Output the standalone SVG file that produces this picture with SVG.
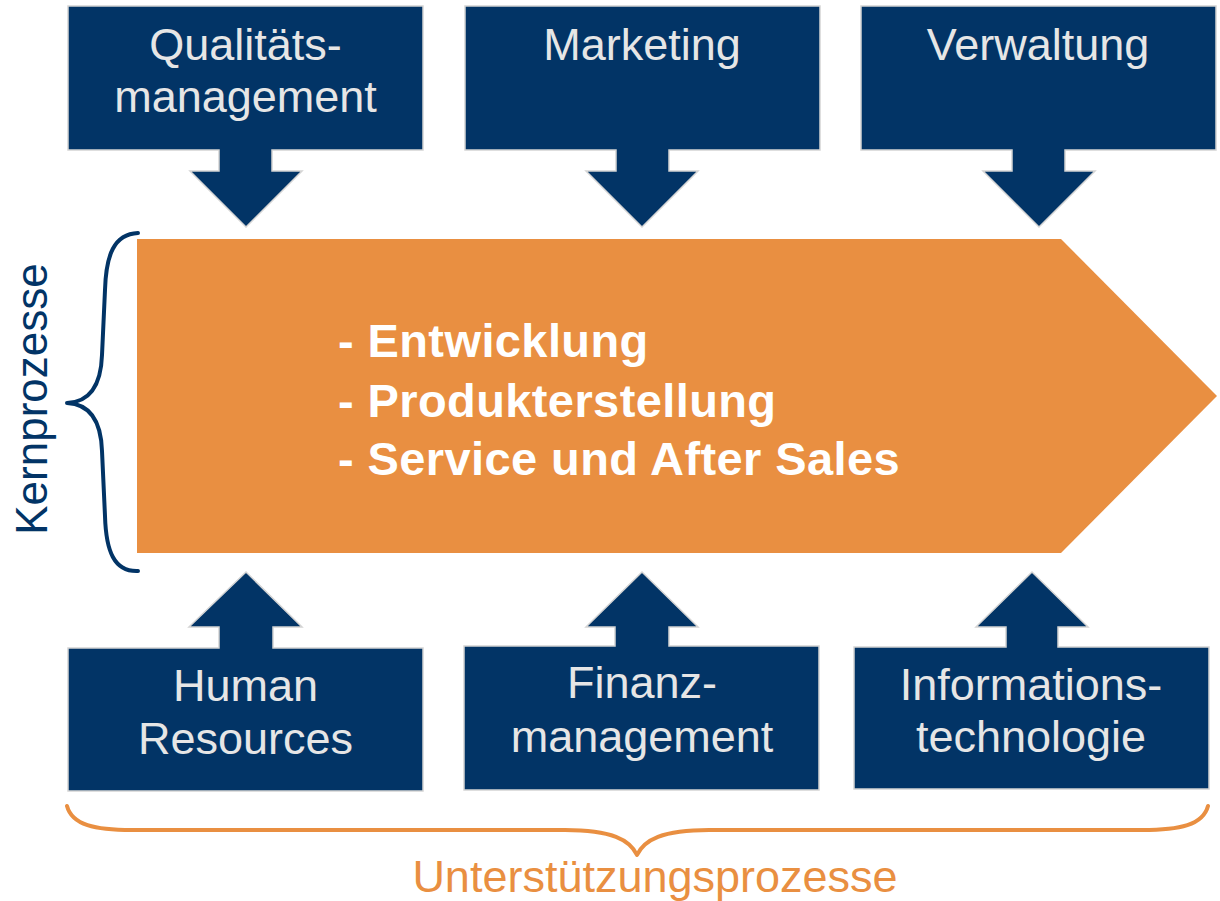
<svg xmlns="http://www.w3.org/2000/svg" width="1220" height="901" viewBox="0 0 1220 901">
<style>
.box{fill:#023466;stroke:#d4d4d4;stroke-width:1.5;stroke-linejoin:miter}
.lbl{font-family:"Liberation Sans",Arial,sans-serif;font-size:45px;fill:#e6e6e6;text-anchor:middle}
.core{font-family:"Liberation Sans",Arial,sans-serif;font-size:47px;font-weight:bold;fill:#ffffff;letter-spacing:0.4px}
.brace{fill:none;stroke-width:4;stroke-linecap:round;stroke-linejoin:round}
</style>
<rect width="1220" height="901" fill="#ffffff"/>
<g id="kern">
<path d="M137,239 H1061 L1217,396 L1061,553 H137 Z" fill="#e98f41"/>
<text class="core" x="338" y="357">- Entwicklung</text>
<text class="core" x="338" y="417">- Produkterstellung</text>
<text class="core" x="338" y="475">- Service und After Sales</text>
</g>
<g id="qualitaet">
<path class="box" d="M68,6 H423 V150 H272 V171 H302 L246,227 L190,171 H219 V150 H68 Z"/>
<text class="lbl" x="245.5" y="60">Qualitäts-</text>
<text class="lbl" x="245.5" y="112">management</text>
</g>
<g id="marketing">
<path class="box" d="M465,6 H820 V150 H669 V171 H698 L642,227 L586,171 H616 V150 H465 Z"/>
<text class="lbl" x="642" y="60">Marketing</text>
</g>
<g id="verwaltung">
<path class="box" d="M861,6 H1216 V150 H1065 V171 H1095 L1039,227 L983,171 H1012 V150 H861 Z"/>
<text class="lbl" x="1038" y="60">Verwaltung</text>
</g>
<g id="hr">
<path class="box" d="M68,648 H219 V627 H189 L246,572 L302,627 H273 V648 H423 V791 H68 Z"/>
<text class="lbl" x="245.5" y="701">Human</text>
<text class="lbl" x="245.5" y="754">Resources</text>
</g>
<g id="finanz">
<path class="box" d="M464,646 H615 V627 H586 L642,572 L698,627 H669 V646 H819 V790 H464 Z"/>
<text class="lbl" x="642" y="698">Finanz-</text>
<text class="lbl" x="642" y="752">management</text>
</g>
<g id="it">
<path class="box" d="M854,647 H1006 V627 H976 L1032,572 L1088,627 H1058 V647 H1209 V789 H854 Z"/>
<text class="lbl" x="1031" y="700">Informations-</text>
<text class="lbl" x="1031" y="752">technologie</text>
</g>
<g id="connectors">
<path class="brace" stroke="#023466" d="M138,233 C114,234 106,255 105,290 L102,355 C101,385 90,402 67,403 C90,404 101,421 102,451 L105,516 C106,551 114,572 138,571"/>
<path class="brace" stroke="#e98f41" d="M67,806 C72,825 95,830 132,830 L565,830 C612,830 630,840 637,855 C644,840 662,830 709,830 L1142,830 C1180,830 1203,825 1208,806"/>
</g>
<g id="labels">
<text x="47" y="399" transform="rotate(-90 47 399)" font-family="Liberation Sans, Arial, sans-serif" font-size="44" fill="#023466" text-anchor="middle">Kernprozesse</text>
<text x="655" y="892" font-family="Liberation Sans, Arial, sans-serif" font-size="45" fill="#e98f41" text-anchor="middle">Unterstützungsprozesse</text>
</g>
</svg>
